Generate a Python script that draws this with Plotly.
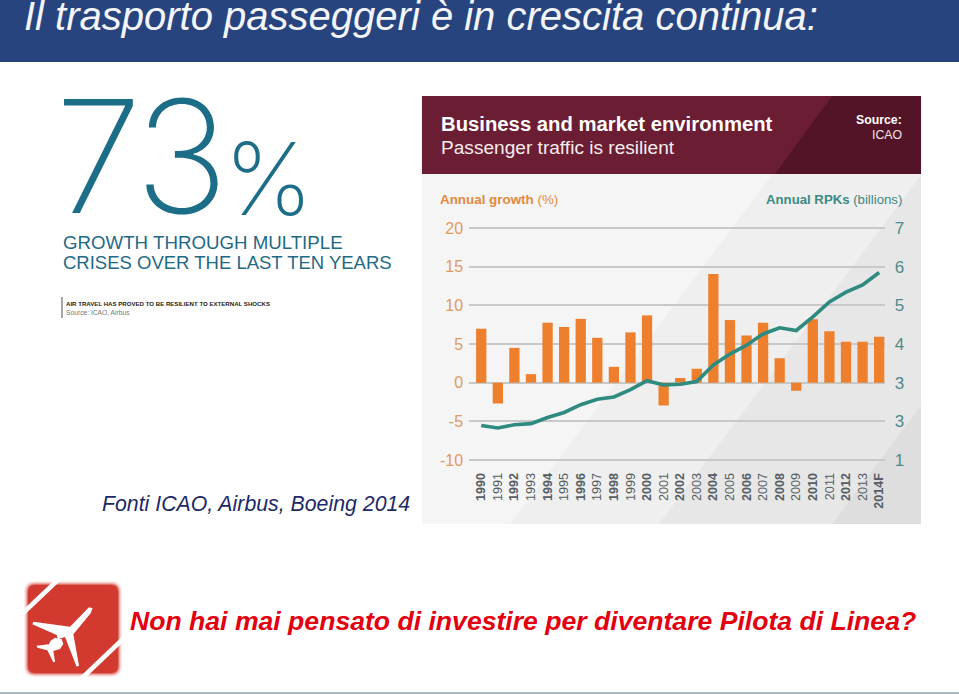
#!/usr/bin/env python3

import plotly.graph_objects as go

WIDTH = 959
HEIGHT = 694

years = ['1990', '1991', '1992', '1993', '1994', '1995', '1996', '1997', '1998', '1999',
         '2000', '2001', '2002', '2003', '2004', '2005', '2006', '2007', '2008', '2009',
         '2010', '2011', '2012', '2013', '2014F']
year_labels = ['<b>1990</b>', '1991', '<b>1992</b>', '1993', '<b>1994</b>', '1995', '<b>1996</b>',
               '1997', '<b>1998</b>', '1999', '<b>2000</b>', '2001', '<b>2002</b>', '2003',
               '<b>2004</b>', '2005', '<b>2006</b>', '2007', '<b>2008</b>', '2009', '<b>2010</b>',
               '2011', '<b>2012</b>', '2013', '<b>2014F</b>']
growth = [6.96, -2.7, 4.5, 1.1, 7.75, 7.2, 8.25, 5.8, 2.05, 6.5, 8.7, -2.95, 0.6, 1.8, 14.06,
          8.1, 6.1, 7.75, 3.15, -1.05, 8.2, 6.65, 5.3, 5.3, 5.95]
rpks = [1.89, 1.83, 1.91, 1.94, 2.10, 2.23, 2.43, 2.57, 2.63, 2.82, 3.05, 2.94, 2.96, 3.03,
        3.46, 3.74, 3.97, 4.26, 4.42, 4.35, 4.70, 5.09, 5.34, 5.53, 5.85]
growth_ticks = [-10, -5, 0, 5, 10, 15, 20]
growth_labels = ['-10', '-5', '0', '5', '10', '15', '20']
rpk_ticks = [1, 2, 3, 4, 5, 6, 7]
rpk_labels = ['1', '3', '3', '4', '5', '6', '7']

ORANGE = '#ee7f2d'
TEAL = '#2f8a80'
RED = '#d2392f'


def px(x):
    return x / WIDTH


def py(y):
    return 1 - y / HEIGHT


def poly(points, color, width=0):
    # closed polygon, points given in page pixels
    path = 'M ' + ' L '.join('{:.4f},{:.4f}'.format(px(x), py(y)) for x, y in points) + ' Z'
    return dict(type='path', xref='paper', yref='paper', path=path, fillcolor=color,
                line=dict(width=width, color=color), layer='below')


def rect(x0, y0, x1, y1, color):
    return poly([(x0, y0), (x1, y0), (x1, y1), (x0, y1)], color)


def rounded(x0, y0, x1, y1, r, color):
    pts = [(x0 + r, y0), (x1 - r, y0), (x1, y0), (x1, y0 + r), (x1, y1 - r), (x1, y1),
           (x1 - r, y1), (x0 + r, y1), (x0, y1), (x0, y1 - r), (x0, y0 + r), (x0, y0)]
    f = ['{:.4f},{:.4f}'.format(px(x), py(y)) for x, y in pts]
    path = 'M {} L {} Q {} {} L {} Q {} {} L {} Q {} {} L {} Q {} {} Z'.format(
        f[0], f[1], f[2], f[3], f[4], f[5], f[6], f[7], f[8], f[9], f[10], f[11], f[0])
    return dict(type='path', xref='paper', yref='paper', path=path, fillcolor=color,
                line=dict(width=0), layer='below')


def stripe(x0, y0, x1, y1, width):
    return dict(type='line', xref='paper', yref='paper', x0=px(x0), y0=py(y0), x1=px(x1), y1=py(y1),
                line=dict(color='white', width=width), layer='below')


def logo(x, y):
    return (20 + x / 3, 575 + y / 3)


shapes = [
    rect(0, 0, 959, 62, '#27447f'),
    rect(0, 692, 959, 694, '#aab6c3'),
    rect(422, 96, 921, 174, '#6b1d33'),
    poly([(775, 174), (832, 96), (921, 96), (921, 174)], '#531428'),
    rect(422, 174, 921, 524, '#f5f5f5'),
    poly([(510, 524), (773, 174), (921, 174), (921, 524)], '#efefef'),
    poly([(659, 524), (921, 175), (921, 524)], '#e7e7e7'),
    poly([(832, 524), (921, 406), (921, 524)], '#dedede'),
    rect(61.5, 297, 62.5, 318, '#555555'),
    rounded(24, 581, 122, 677, 11, '#fbeceb'),
    rounded(25, 582, 121, 676, 10, '#f5d3d0'),
    rounded(26, 583, 120, 675, 9, '#eba9a4'),
    rounded(27, 584, 119, 674, 8, '#e0716a'),
    rounded(28, 585, 118, 673, 7, RED),
    stripe(22, 614, 60, 578, 4.5),
    stripe(82, 678, 124, 638, 4.5),
    poly([logo(*p) for p in [(218, 100), (207, 97), (150, 155), (40, 140), (37, 148), (110, 180),
                             (114, 192), (135, 186), (170, 275), (177, 272), (160, 178), (212, 115)]],
         'white'),
    poly([logo(*p) for p in [(125, 192), (105, 188), (92, 197), (87, 208), (50, 212), (52, 218),
                             (82, 226), (100, 262), (105, 260), (100, 228), (120, 222), (130, 207)]],
         'white'),
]


def label(x, y, text, size, color, anchor='left', family='Liberation Sans', weight=None, style=None):
    return dict(xref='paper', yref='paper', x=px(x), y=py(y), text=text, showarrow=False,
                xanchor=anchor, yanchor='middle', borderpad=0, align=anchor,
                font=dict(family=family, size=size, color=color, weight=weight, style=style))


annotations = [
    label(23, 16, 'Il trasporto passeggeri è in crescita continua:', 40, '#f3f5f9', style='italic'),
    label(54, 156, '7', 157, '#1b6d88', family='Inter', weight=200),
    label(134, 156, '3', 157, '#1b6d88', family='Inter', weight=200),
    label(223, 178, '%', 100, '#1b6d88', family='Inter', weight=200),
    label(62, 242, 'GROWTH THROUGH MULTIPLE', 18.7, '#1f6a85'),
    label(62, 262, 'CRISES OVER THE LAST TEN YEARS', 18.5, '#1f6a85'),
    label(65, 303, '<b>AIR TRAVEL HAS PROVED TO BE RESILIENT TO EXTERNAL SHOCKS</b>', 6.1, '#222222'),
    label(65, 312, 'Source: ICAO, Airbus', 6.7, '#777777'),
    label(101, 504, 'Fonti ICAO, Airbus, Boeing 2014', 21.3, '#1d2a66', style='italic'),
    label(440, 124, '<b>Business and market environment</b>', 20.3, 'white'),
    label(440, 148, 'Passenger traffic is resilient', 19.1, '#f6edef'),
    label(903, 120, '<b>Source:</b>', 12.3, 'white', anchor='right'),
    label(903, 135, 'ICAO', 12.3, '#f0e4e7', anchor='right'),
    label(439, 199, '<b>Annual growth</b> (%)', 13.4, '#e5893f'),
    label(903, 199, '<b>Annual RPKs</b> (billions)', 13.2, '#3b8a83', anchor='right'),
    label(129, 621, '<b>Non hai mai pensato di investire per diventare Pilota di Linea?</b>', 26.6,
          '#e3000f', style='italic'),
]

fig = go.Figure()
fig.add_bar(x=years, y=growth, marker=dict(color=ORANGE, line=dict(width=0)), width=0.62, name='Annual growth')
fig.add_scatter(x=years, y=rpks, yaxis='y2', mode='lines', line=dict(color=TEAL, width=3.6), name='Annual RPKs')
fig.update_layout(
    width=WIDTH, height=HEIGHT, margin=dict(l=0, r=0, t=0, b=0, autoexpand=False),
    paper_bgcolor='white', plot_bgcolor='rgba(0,0,0,0)', showlegend=False,
    font=dict(family='Liberation Sans'), shapes=shapes, annotations=annotations,
    xaxis=dict(domain=[px(469.3), px(885.3)], type='category', categoryorder='array', categoryarray=years,
               range=[-0.72, 24.37], tickmode='array', tickvals=years, ticktext=year_labels,
               tickangle=-90, ticks='outside', ticklen=5, tickcolor='rgba(0,0,0,0)',
               tickfont=dict(size=12.6, color='#555e64'), showgrid=False, showline=False, zeroline=False),
    # 2px of slack so the -10 and 20 grid lines are not dropped at the axis ends
    yaxis=dict(domain=[py(462), py(226)], range=[-10.2586, 20.2586], tickmode='array', tickvals=growth_ticks,
               ticktext=growth_labels, ticks='outside', ticklen=2, tickcolor='rgba(0,0,0,0)',
               tickfont=dict(size=16, color='#df9a62'), gridcolor='#c8c8c8', gridwidth=1.6,
               zeroline=True, zerolinecolor='#c8c8c8', zerolinewidth=1.6, showline=False),
    yaxis2=dict(domain=[py(462), py(226)], overlaying='y', side='right', anchor='x', range=[0.9483, 7.0517],
                tickmode='array', tickvals=rpk_ticks, ticktext=rpk_labels, ticks='outside', ticklen=5,
                tickcolor='rgba(0,0,0,0)', tickfont=dict(size=17, color='#4d8b8a'),
                showgrid=False, zeroline=False, showline=False),
)
fig.write_html('out.html', config=dict(displayModeBar=False),
               post_script="document.body.style.margin='0';document.body.style.overflow='hidden';")
